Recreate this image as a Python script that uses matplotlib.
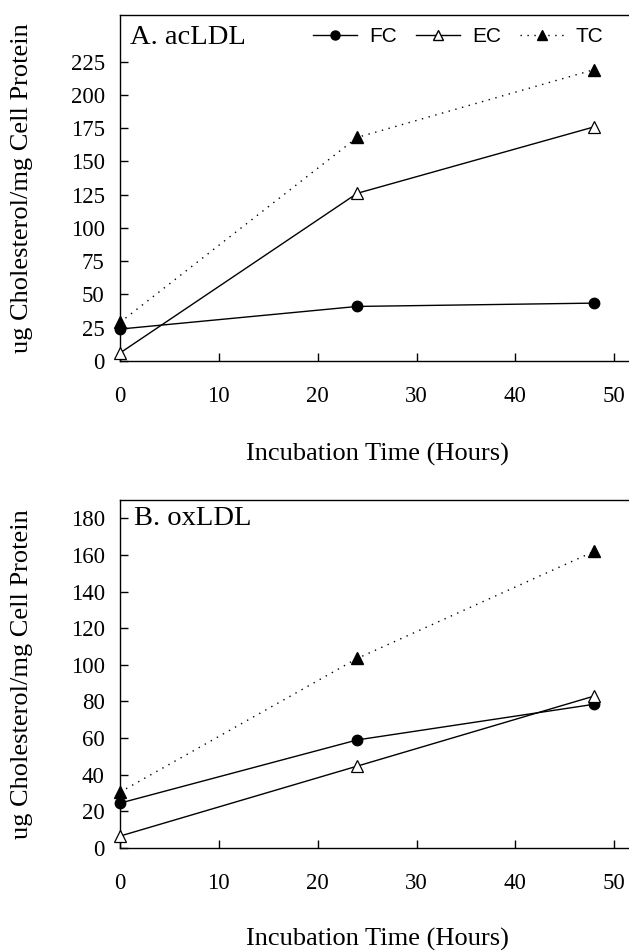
import matplotlib
matplotlib.use("Agg")
import matplotlib.pyplot as plt
from matplotlib.lines import Line2D

hours = [0, 24, 48]

# Panel A: acetylated LDL
ac_fc = [24, 41, 43.5]
ac_ec = [6, 126, 176]
ac_tc = [29, 168, 219]

# Panel B: oxidized LDL
ox_fc = [24.5, 59, 78.5]
ox_ec = [6.5, 44.7, 83]
ox_tc = [30.5, 103.5, 162]

x_ticks = [0, 10, 20, 30, 40, 50]
a_yticks = [0, 25, 50, 75, 100, 125, 150, 175, 200, 225]
b_yticks = [0, 20, 40, 60, 80, 100, 120, 140, 160, 180]

serif = "Liberation Serif"
sans = "Liberation Sans"
W, H = 629, 950

fig = plt.figure(figsize=(W / 100, H / 100), dpi=100)
axA = fig.add_axes([120 / W, 1 - 361 / H, 1 - 120 / W, (361 - 15) / H])
axB = fig.add_axes([120 / W, 1 - 848 / H, 1 - 120 / W, (848 - 500) / H])

DOTTED = (0, (1, 4))


def draw(ax, fc, ec, tc, yticks, ytop, title, title_left_px, title_top_px,
         xlabel_gap_px):
    ax.plot(hours, fc, color="black", lw=1.0, marker="o", ms=7.5,
            mfc="black", mec="black", clip_on=False, zorder=3)
    ax.plot(hours, ec, color="black", lw=1.0, marker="^", ms=8,
            mfc="white", mec="black", mew=0.9, clip_on=False, zorder=3)
    ax.plot(hours, tc, color="black", lw=1.0, ls=DOTTED, marker="^",
            ms=8, mfc="black", mec="black", clip_on=False, zorder=3)
    ax.set_xlim(0, 51.5)
    ax.set_ylim(0, ytop)
    ax.set_xticks(x_ticks)
    ax.set_yticks(yticks)
    ax.tick_params(direction="in", length=6, width=1.0, labelsize=16.5)
    ax.tick_params(axis="x", pad=18)
    ax.tick_params(axis="y", pad=11)
    for lab in ax.get_xticklabels() + ax.get_yticklabels():
        lab.set_fontfamily(serif)
    ax.spines["right"].set_visible(False)
    for s in ("left", "bottom", "top"):
        ax.spines[s].set_linewidth(1.0)
    ax.set_xlabel("Incubation Time (Hours)", fontfamily=serif, fontsize=19)
    ax.set_ylabel("ug Cholesterol/mg Cell Protein", fontfamily=serif,
                  fontsize=19)
    bbox = ax.get_position()
    ax_w_px = bbox.width * W
    ax_h_px = bbox.height * H
    ax.xaxis.set_label_coords(0.5 + 3 / ax_w_px, -xlabel_gap_px / ax_h_px)
    ax.yaxis.set_label_coords((33 - 120) / ax_w_px, 0.5)
    top_px = H - bbox.y1 * H
    ax.text((title_left_px - 120) / ax_w_px,
            1 - (title_top_px - top_px) / ax_h_px,
            title, transform=ax.transAxes, ha="left", va="top",
            fontfamily=serif, fontsize=20.5)


draw(axA, ac_fc, ac_ec, ac_tc, a_yticks, 260, "A. acLDL", 130, 25, 82)
draw(axB, ox_fc, ox_ec, ox_tc, b_yticks, 190, "B. oxLDL", 134, 506, 80)

handles = [
    Line2D([], [], color="black", lw=1.0, marker="o", ms=6.5, mfc="black"),
    Line2D([], [], color="black", lw=1.0, marker="^", ms=6.5, mfc="white"),
    Line2D([], [], color="black", lw=1.0, ls=DOTTED, marker="^", ms=6.5,
           mfc="black"),
]
bA = axA.get_position()
axA.legend(handles, ["FC", "EC", "TC"], ncol=3, frameon=False,
           loc="upper right",
           bbox_to_anchor=((610 - 120) / (bA.width * W), 1 - 6 / (bA.height * H)),
           prop={"family": sans, "size": 15}, handlelength=2.1,
           handletextpad=0.6, columnspacing=0.9, borderaxespad=0.0,
           borderpad=0.3)

fig.savefig("out.png", dpi=100)
